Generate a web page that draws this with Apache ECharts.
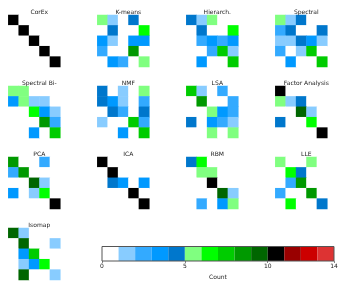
<!DOCTYPE html>
<html><head><meta charset="utf-8">
<script src="https://cdn.jsdelivr.net/npm/echarts@6/dist/echarts.min.js"></script>
<style>html,body{margin:0;padding:0;background:#fff}#c{width:350px;height:285px}</style>
</head><body><div id="c"></div>
<script>
const methods = ['CorEx','K-means','Hierarch.','Spectral','Spectral Bi-','NMF','LSA','Factor Analysis','PCA','ICA','RBM','LLE','Isomap'];
const corex      = [[10,0,0,0,0],[0,10,0,0,0],[0,0,10,0,0],[0,0,0,10,0],[0,0,0,0,10]];
const kmeans     = [[5,1,0,4,0],[0,4,0,0,6],[3,1,0,3,3],[2,0,0,8,0],[0,3,2,0,5]];
const hierarch   = [[4,1,5,0,0],[0,4,0,0,6],[0,2,3,2,3],[0,0,2,7,1],[0,3,0,0,7]];
const spectral   = [[5,1,4,0,0],[2,4,0,0,4],[1,1,4,3,1],[2,0,1,7,0],[0,3,0,0,7]];
const spectralBi = [[5,5,0,0,0],[3,5,1,1,0],[0,0,6,3,1],[0,0,0,8,2],[0,0,3,0,7]];
const nmf        = [[4,0,1,0,5],[4,3,1,0,2],[0,4,2,0,4],[1,0,0,7,2],[0,0,3,0,7]];
const lsa        = [[7,1,0,2,0],[0,8,0,0,2],[0,0,5,3,2],[4,0,3,2,1],[0,0,5,0,5]];
const factorAn   = [[10,0,0,0,0],[5,1,4,0,0],[0,0,9,1,0],[4,0,0,6,0],[0,0,0,0,10]];
const pca        = [[8,0,0,2,0],[2,8,0,0,0],[0,0,9,1,0],[3,0,1,6,0],[0,0,0,0,10]];
const ica        = [[10,0,0,0,0],[0,10,0,0,0],[0,4,3,0,3],[0,0,0,10,0],[0,0,0,0,10]];
const rbm        = [[4,6,0,0,0],[0,5,5,0,0],[0,0,10,0,0],[0,0,0,9,1],[0,2,0,3,5]];
const lle        = [[5,0,0,5,0],[0,6,4,0,0],[0,2,8,0,0],[2,0,0,8,0],[0,6,0,0,4]];
const isomap     = [[9,1,0,0,0],[0,9,0,0,1],[0,3,7,0,0],[0,1,3,6,0],[0,9,0,0,1]];
const matrices = [corex,kmeans,hierarch,spectral,spectralBi,nmf,lsa,factorAn,pca,ica,rbm,lle,isomap];
const binColors = ['#ffffff','#88ccff','#33aaff','#0099ff','#0077cc','#80ff80','#00ff00','#00cc00','#009900','#006600','#000000','#990000','#cc0000','#dd3333'];
const cbarMin = 0, cbarMax = 14, cbarInterval = 5;
const cbarLabel = 'Count';

const colX = [8.3, 97.3, 186.3, 275.3];
const rowY = [15, 86, 157, 228];
const size = 52;
const font = 'DejaVu Sans';

const grids = [], xAxes = [], yAxes = [], series = [], titles = [];
const cats = [0,1,2,3,4];
matrices.forEach((m, i) => {
  const gx = colX[i % 4], gy = rowY[Math.floor(i / 4)];
  grids.push({left: gx, top: gy, width: size, height: size, containLabel: false});
  xAxes.push({type: 'category', gridIndex: i, data: cats, show: false});
  yAxes.push({type: 'category', gridIndex: i, data: cats, inverse: true, show: false});
  const d = [];
  m.forEach((row, r) => row.forEach((v, c) => d.push([c, r, v])));
  series.push({type: 'heatmap', xAxisIndex: i, yAxisIndex: i, data: d, silent: true,
    itemStyle: {borderWidth: 0}, emphasis: {disabled: true}, animation: false});
  titles.push({text: methods[i], left: gx + size / 2, top: gy - 11, textAlign: 'center',
    textStyle: {fontFamily: font, fontSize: 6, fontWeight: 'normal', color: '#222'}});
});

// colorbar
const cb = matrices.length;
grids.push({left: 102, top: 246.5, width: 232, height: 14.5});
xAxes.push({type: 'value', gridIndex: cb, min: cbarMin, max: cbarMax, interval: cbarInterval,
  axisLine: {show: false}, splitLine: {show: false},
  axisTick: {show: true, length: 2, lineStyle: {color: '#333', width: 0.6}},
  axisLabel: {fontFamily: font, fontSize: 6, color: '#222', margin: 2, showMaxLabel: true, showMinLabel: true},
  name: cbarLabel, nameLocation: 'middle', nameGap: 13,
  nameTextStyle: {fontFamily: font, fontSize: 6, color: '#222'}});
yAxes.push({type: 'value', gridIndex: cb, min: 0, max: 1, show: false});
const binData = binColors.map((c, k) => [k, k + 1, k]);
series.push({type: 'custom', xAxisIndex: cb, yAxisIndex: cb, data: binData, silent: true, animation: false,
  renderItem: (params, api) => {
    const p0 = api.coord([api.value(0), 1]);
    const p1 = api.coord([api.value(1), 0]);
    return {type: 'rect', shape: {x: p0[0], y: p0[1], width: p1[0] - p0[0], height: p1[1] - p0[1]},
      style: {fill: binColors[api.value(2)]}};
  }});
series.push({type: 'custom', xAxisIndex: cb, yAxisIndex: cb, data: [[cbarMin, cbarMax]], silent: true, animation: false, z: 5,
  renderItem: (params, api) => {
    const p0 = api.coord([api.value(0), 1]);
    const p1 = api.coord([api.value(1), 0]);
    return {type: 'rect', shape: {x: p0[0], y: p0[1], width: p1[0] - p0[0], height: p1[1] - p0[1]},
      style: {fill: 'none', stroke: '#555', lineWidth: 1}};
  }});

const chart = echarts.init(document.getElementById('c'), null, {renderer: 'canvas'});
chart.setOption({
  animation: false,
  backgroundColor: '#fff',
  title: titles,
  grid: grids, xAxis: xAxes, yAxis: yAxes,
  visualMap: {type: 'piecewise', show: false, seriesIndex: matrices.map((_, i) => i), dimension: 2,
    pieces: binColors.map((c, k) => ({value: k, color: c}))},
  series: series
});
</script></body></html>
